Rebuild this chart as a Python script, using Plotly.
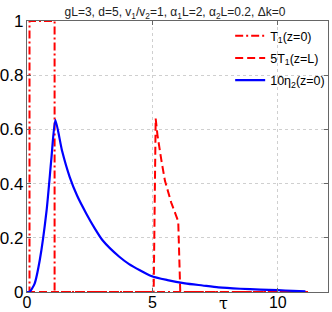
import plotly.graph_objects as go

# T1(z=0): dash-dot red
t1_x = [0, 0.1, 0.1, 1.1, 1.1, 11.2]
t1_y = [0, 0, 1, 1, 0, 0]

# 5T1(z=L): dashed red
t1L_x = [0, 5.05, 5.13, 5.2, 5.35, 5.5, 5.75, 6.03, 6.11, 11.2]
t1L_y = [0, 0, 0.64, 0.58, 0.49, 0.41, 0.33, 0.26, 0, 0]

# 10*eta2(z=0): solid blue
eta_x = [0, 0.1, 0.3, 0.51, 0.78, 0.97, 1.13, 1.4, 1.7, 2.0, 2.36, 2.7, 3.02, 3.68,
         4.07, 4.95, 5.6, 6.3, 7.0, 7.63, 8.5, 9.3, 10.0, 10.6, 11.1]
eta_y = [0, 0, 0.03, 0.118, 0.30, 0.49, 0.635, 0.52, 0.425, 0.355, 0.29, 0.235, 0.19,
         0.13, 0.103, 0.059, 0.044, 0.032, 0.024, 0.017, 0.012, 0.009, 0.007, 0.004, 0.002]

title_text = "gL=3, d=5, v<sub>1</sub>/v<sub>2</sub>=1, α<sub>1</sub>L=2, α<sub>2</sub>L=0.2, Δk=0"

fig = go.Figure()
fig.add_trace(go.Scatter(x=t1_x, y=t1_y, mode="lines", name="T<sub>1</sub>(z=0)", legendgroup="a",
                         line=dict(color="#ff0000", width=2, dash="8px,3px,2px,3px")))
fig.add_trace(go.Scatter(x=t1L_x, y=t1L_y, mode="lines", name="5T<sub>1</sub>(z=L)", legendgroup="b",
                         line=dict(color="#ff0000", width=2, dash="8px,4px")))
fig.add_trace(go.Scatter(x=eta_x, y=eta_y, mode="lines", name="10η<sub>2</sub>(z=0)", legendgroup="c",
                         line=dict(color="#0000ff", width=2.2, shape="spline", smoothing=0.6)))

axis_common = dict(showline=True, linecolor="#666666", linewidth=1.2, mirror="ticks",
                   ticks="inside", ticklen=4, tickcolor="#666666", automargin=False,
                   showgrid=True, gridcolor="#cfcfcf", griddash="dot", gridwidth=1,
                   zeroline=False)

fig.update_layout(
    width=332, height=312,
    margin=dict(l=27, r=2, t=21, b=20),
    plot_bgcolor="white", paper_bgcolor="white",
    title=dict(text=title_text, x=0.527, xanchor="center", y=0.962, yanchor="middle",
               font=dict(family="Liberation Sans, Arial", size=12, color="#222222")),
    xaxis=dict(range=[0, 12], tickvals=[0, 5, 10], ticktext=["0", "5", "10"],
               ticklabelstandoff=-4,
               tickfont=dict(family="Liberation Sans, Arial", size=16, color="black"), **axis_common),
    yaxis=dict(range=[0, 1], tickvals=[0, 0.2, 0.4, 0.6, 0.8, 1],
               ticktext=["0", "0.2", "0.4", "0.6", "0.8", "1"],
               ticklabelstandoff=-1,
               tickfont=dict(family="Liberation Sans, Arial", size=17, color="black"), **axis_common),
    legend=dict(x=0.675, y=1.0, xanchor="left", yanchor="top", bgcolor="rgba(0,0,0,0)",
                font=dict(family="Liberation Sans, Arial", size=12.5, color="black"),
                itemwidth=30, tracegroupgap=3),
    showlegend=True,
)
fig.add_annotation(text="τ", x=7.85, y=0.0, xref="x", yref="paper", yanchor="top",
                   showarrow=False, font=dict(family="DejaVu Serif", size=16, color="black"))

fig.write_html("out.html", config={"displayModeBar": False},
               post_script="document.body.style.margin='0';document.body.style.overflow='hidden';")
